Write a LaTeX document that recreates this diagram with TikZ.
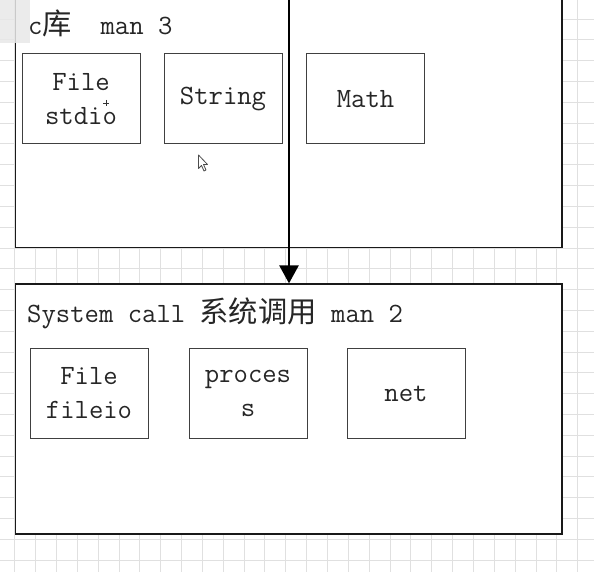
\documentclass[tikz,border=0pt]{standalone}
\usepackage{fontspec}
\newfontfamily\cjk{Noto Sans CJK SC}
\newcommand{\cjkf}[1]{{\cjk\fontsize{29.3}{34}\selectfont #1}}
\usetikzlibrary{arrows.meta}
\begin{document}
\begin{tikzpicture}
  [x=1pt,y=-1pt,
   every node/.style={font=\fontsize{27.9}{34}\ttfamily\selectfont,text=black!85},
   gridline/.style={draw=black!12,line width=1pt},
   bigbox/.style={draw=black!90,fill=white,line width=1.2pt,minimum width=546.5pt,inner sep=0pt},
   smallbox/.style={draw=black!75,fill=white,line width=1pt,minimum width=118pt,minimum height=90pt,align=center,inner sep=0pt},
   callarrow/.style={draw=black,line width=2.5pt,-{Triangle[length=18pt,width=19pt]}}]
  \useasboundingbox (0,0) rectangle (594,572);
  \fill[white] (0,0) rectangle (594,572);

  % background grid
  \foreach \gx in {0,...,28}
    \draw[gridline] ({577.7-\gx*20.85},0) -- ({577.7-\gx*20.85},572);
  \foreach \gy in {0,...,27}
    \draw[gridline] (0,{560-\gy*20.8}) -- (594,{560-\gy*20.8});

  % the two layers
  \node[bigbox,minimum height=260pt] (c3box) at (288.75,117.5) {};
  \node[bigbox,minimum height=250pt] (sysbox) at (288.75,409) {};

  % grey corner panel
  \fill[black!9,opacity=0.85] (0,0) rectangle (30,43);

  \node[anchor=base west,inner sep=0pt] (c3lbl) at (28,35) {c\cjkf{库}\ \ man 3};
  \node[anchor=base west,inner sep=0pt] (syslbl) at (27,322) {System call \cjkf{系统调用} man 2};

  \node[smallbox] (stdio) at (81,99) {File\\stdio};
  \node[smallbox] (string) at (223,99) {String};
  \node[smallbox] (math) at (365.5,99) {Math};

  \node[smallbox] (fileio) at (89,393.5) {File\\fileio};
  \node[smallbox] (proces) at (248,393.5) {proces\\s};
  \node[smallbox] (net) at (406,393.5) {net};

  \coordinate (src) at (289,-5);
  \draw[callarrow] (src) -- (src |- sysbox.north);

  % pointer marks
  \draw[black!80,line width=0.6pt] (103,103) -- (109,103) (106,100) -- (106,106);
  \draw[black!70,fill=white,line width=0.8pt,line join=round]
    (198.5,155) -- (198.5,168.5) -- (201.5,165.5) -- (204,171) -- (206,170)
    -- (203.5,164.5) -- (207.5,164.5) -- cycle;
\end{tikzpicture}
\end{document}
